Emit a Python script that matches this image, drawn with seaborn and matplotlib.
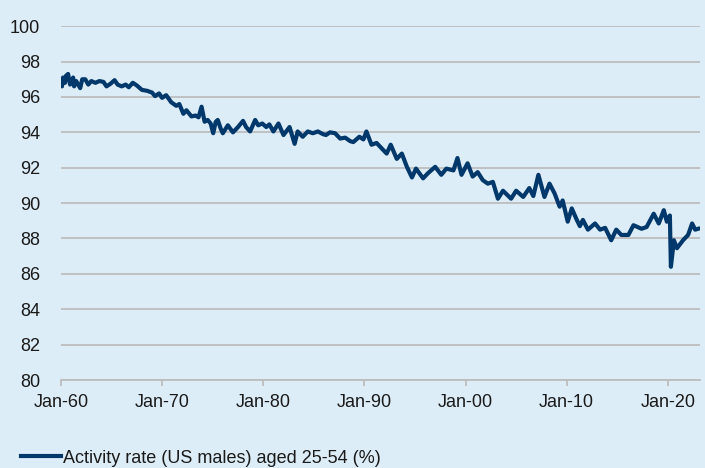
import numpy as np
import pandas as pd
from matplotlib import pyplot as plt
import seaborn as sns

# values (decimal year, activity rate %)
years = [
    1960.0, 1960.1, 1960.2, 1960.4, 1960.5, 1960.7, 1960.9, 1961.2, 1961.3, 1961.5,
    1961.9, 1962.1, 1962.4, 1962.7, 1963.0, 1963.4, 1963.8, 1964.2, 1964.5, 1964.9,
    1965.3, 1965.6, 1966.0, 1966.4, 1966.7, 1967.1, 1967.5, 1968.0, 1968.5, 1969.0,
    1969.3, 1969.7, 1970.0, 1970.4, 1970.9, 1971.4, 1971.7, 1972.1, 1972.4, 1972.9,
    1973.3, 1973.6, 1973.9, 1974.2, 1974.5, 1974.8, 1975.05, 1975.3, 1975.5, 1975.8,
    1976.0, 1976.5, 1977.0, 1977.5, 1978.0, 1978.3, 1978.7, 1979.2, 1979.5, 1979.9,
    1980.3, 1980.6, 1981.0, 1981.5, 1982.0, 1982.6, 1983.1, 1983.4, 1983.9, 1984.4,
    1984.9, 1985.4, 1985.9, 1986.2, 1986.6, 1987.1, 1987.6, 1988.1, 1988.6, 1988.9,
    1989.5, 1989.9, 1990.2, 1990.7, 1991.2, 1991.7, 1992.2, 1992.6, 1993.2, 1993.7,
    1994.2, 1994.7, 1995.1, 1995.8, 1996.3, 1997.0, 1997.6, 1998.1, 1998.8, 1999.2,
    1999.6, 2000.2, 2000.7, 2001.2, 2001.7, 2002.2, 2002.7, 2003.2, 2003.7, 2004.5,
    2005.0, 2005.7, 2006.3, 2006.7, 2007.2, 2007.8, 2008.3, 2008.8, 2009.3, 2009.6,
    2010.1, 2010.5, 2011.0, 2011.3, 2011.6, 2012.1, 2012.8, 2013.3, 2013.8, 2014.4,
    2014.9, 2015.4, 2016.1, 2016.6, 2017.4, 2017.9, 2018.6, 2019.1, 2019.6, 2019.9,
    2020.2, 2020.3, 2020.6, 2020.9, 2021.5, 2022.0, 2022.4, 2022.7, 2023.0,
]
rate = [
    96.9, 96.6, 97.1, 96.8, 97.2, 97.3, 96.7, 97.1, 96.6, 96.9,
    96.5, 97.0, 97.0, 96.7, 96.9, 96.8, 96.9, 96.85, 96.6, 96.75,
    96.95, 96.7, 96.6, 96.7, 96.55, 96.8, 96.65, 96.4, 96.35, 96.25,
    96.05, 96.2, 95.95, 96.1, 95.7, 95.5, 95.6, 95.05, 95.25, 94.9,
    94.95, 94.85, 95.45, 94.6, 94.7, 94.5, 93.95, 94.6, 94.7, 94.2,
    93.95, 94.4, 94.0, 94.3, 94.65, 94.3, 94.05, 94.7, 94.4, 94.5,
    94.3, 94.45, 94.05, 94.5, 93.85, 94.3, 93.35, 94.05, 93.75, 94.05,
    93.95, 94.05, 93.9, 93.85, 94.0, 93.95, 93.65, 93.7, 93.5, 93.45,
    93.75, 93.6, 94.05, 93.3, 93.4, 93.1, 92.8, 93.3, 92.5, 92.8,
    92.05, 91.45, 91.95, 91.4, 91.7, 92.05, 91.6, 91.95, 91.85, 92.55,
    91.6, 92.25, 91.5, 91.75, 91.3, 91.1, 91.2, 90.25, 90.7, 90.25,
    90.7, 90.35, 90.85, 90.4, 91.6, 90.35, 91.1, 90.55, 89.8, 90.15,
    88.95, 89.7, 89.05, 88.7, 89.05, 88.5, 88.85, 88.5, 88.6, 87.9,
    88.5, 88.2, 88.2, 88.75, 88.55, 88.65, 89.4, 88.85, 89.6, 88.95,
    89.3, 86.4, 87.9, 87.45, 87.9, 88.2, 88.85, 88.5, 88.55,
]
tick_years = [1960, 1970, 1980, 1990, 2000, 2010, 2020]
tick_labels = ['Jan-60', 'Jan-70', 'Jan-80', 'Jan-90', 'Jan-00', 'Jan-10', 'Jan-20']
series_name = 'Activity rate (US males) aged 25-54 (%)'

df = pd.DataFrame({'year': years, 'rate': rate})

BG = '#ddedf7'
NAVY = '#00386b'
GRID = '#bdbdbd'
TEXT = '#1a1a1a'

plt.rcParams['font.family'] = ['Liberation Sans', 'DejaVu Sans']

fig = plt.figure(figsize=(7.05, 4.68), dpi=100, facecolor=BG)
ax = fig.add_axes([0.0865, 0.188, 0.906, 0.756])
ax.set_facecolor(BG)

sns.lineplot(data=df, x='year', y='rate', ax=ax, color=NAVY, linewidth=3.0,
             label=series_name, legend=False)

ax.set_xlim(1960, 2023.15)
ax.set_ylim(80, 100)
ax.set_yticks(np.arange(80, 101, 2))
ax.set_xticks(tick_years)
ax.set_xticklabels(tick_labels)
ax.set_xlabel('')
ax.set_ylabel('')

ax.grid(True, axis='y', color=GRID, linewidth=1.3)
ax.grid(False, axis='x')
ax.set_axisbelow(True)
for s in ['top', 'right', 'left']:
    ax.spines[s].set_visible(False)
ax.spines['bottom'].set_color(GRID)
ax.spines['bottom'].set_linewidth(1.3)

ax.tick_params(axis='y', length=0, pad=15, labelsize=13, labelcolor=TEXT)
ax.tick_params(axis='x', length=4, width=1.3, color=GRID, pad=6, labelsize=13,
               labelcolor=TEXT)

handles, labels = ax.get_legend_handles_labels()
fig.legend(handles, labels, loc='center left', bbox_to_anchor=(0.03, 0.021),
           frameon=False, fontsize=13, handlelength=2.2, handletextpad=0.1,
           borderpad=0, borderaxespad=0, labelcolor=TEXT)

fig.savefig('out.png', dpi=100, facecolor=BG)
